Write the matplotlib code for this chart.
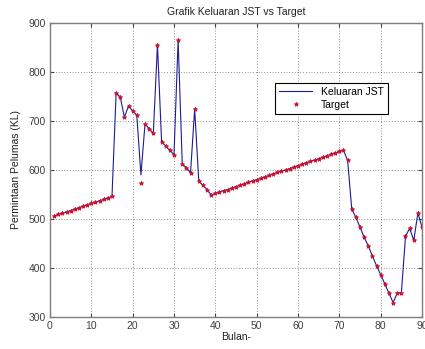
import matplotlib
matplotlib.use("Agg")
import matplotlib.pyplot as plt
import numpy as np

plt.rcParams['font.family'] = ['Liberation Sans', 'DejaVu Sans']

bulan = np.arange(1, 91)

target = [
    506, 509, 512, 514, 517, 520, 523, 526, 529, 532,
    534, 537, 540, 543, 546, 758, 749, 708, 731, 721,
    712, 573, 695, 684, 675, 856, 658, 649, 640, 631,
    866, 612, 605, 594, 725, 577, 569, 560, 549, 552,
    555, 558, 560, 563, 566, 569, 572, 575, 578, 580,
    583, 586, 589, 592, 595, 598, 600, 603, 606, 609,
    612, 615, 618, 620, 623, 626, 629, 632, 635, 638,
    640, 620, 520, 503, 483, 462, 445, 424, 404, 386,
    367, 348, 329, 348, 349, 464, 481, 456, 512, 483,
]

# network output follows the target except where it misses a dip
keluaran = list(target)
keluaran[21] = 590

fig = plt.figure(figsize=(4.25, 3.49), dpi=100)
ax = fig.add_axes([0.1176, 0.0926, 0.8754, 0.8406])

ax.plot(bulan, keluaran, color='#1c1c94', lw=0.8, label='Keluaran JST')
ax.plot(bulan, target, ls='none', marker='*', ms=3.2, color='#d0102e',
        mec='#d0102e', mew=0.6, label='Target')

ax.set_xlim(0, 90)
ax.set_ylim(300, 900)
ax.set_xticks(np.arange(0, 91, 10))
ax.set_yticks(np.arange(300, 901, 100))
ax.grid(True, ls=(0, (1, 3)), color='#303030', lw=0.5)
ax.tick_params(direction='in', length=3, labelsize=7.5, colors='#404040',
               top=True, right=True, pad=3)
for s in ax.spines.values():
    s.set_color('#7f7f7f')
    s.set_linewidth(1.0)

ax.set_title('Grafik Keluaran JST vs Target', fontsize=7.5, color='#202020', pad=6)
ax.set_xlabel('Bulan-', fontsize=7.5, color='#202020', labelpad=1)
ax.set_ylabel('Permintaan Pelumas (KL)', fontsize=7.5, color='#202020', labelpad=5)

leg = ax.legend(loc='upper left', bbox_to_anchor=(0.59, 0.815), fontsize=7.5,
                fancybox=False, framealpha=1, edgecolor='black',
                handlelength=3.2, borderpad=0.4, labelspacing=0.3)
leg.get_frame().set_linewidth(0.8)

fig.savefig('out.png', dpi=100)
